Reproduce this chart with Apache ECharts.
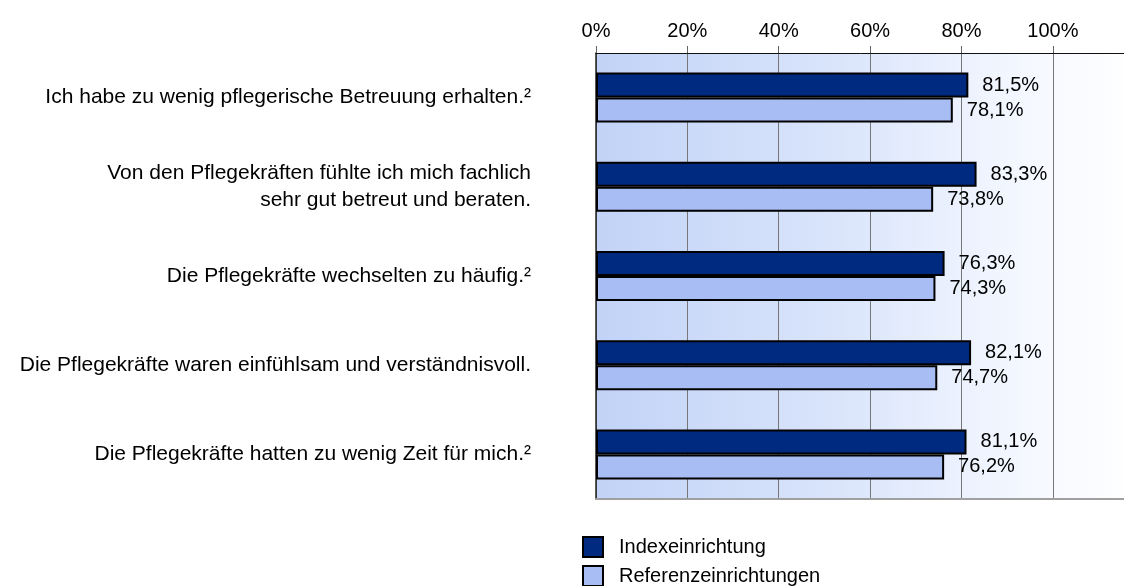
<!DOCTYPE html>
<html lang="de">
<head>
    <meta charset="UTF-8">
    <title>Pflegerische Betreuung</title>
    <script type="text/javascript" src="https://cdn.jsdelivr.net/npm/echarts@6/dist/echarts.min.js"></script>
    <style>
        body { margin: 0; background: #fff; overflow: hidden; }
    </style>
</head>
<body>
<div id="chart" style="width: 1124px;height: 586px"></div>
<script type="text/javascript">
    var categories = [
        'Ich habe zu wenig pflegerische Betreuung erhalten.²',
        'Von den Pflegekräften fühlte ich mich fachlich\nsehr gut betreut und beraten.',
        'Die Pflegekräfte wechselten zu häufig.²',
        'Die Pflegekräfte waren einfühlsam und verständnisvoll.',
        'Die Pflegekräfte hatten zu wenig Zeit für mich.²'
    ];
    var indexValues = [81.5, 83.3, 76.3, 82.1, 81.1];
    var refValues = [78.1, 73.8, 74.3, 74.7, 76.2];
    var seriesNames = ['Indexeinrichtung', 'Referenzeinrichtungen'];

    var font = 'Liberation Sans, Arial, sans-serif';
    var axisMax = 118.2; // plot runs past the right edge of the picture

    function pct(v) {
        return v.toFixed(1).replace('.', ',') + '%';
    }

    var myChart = echarts.init(document.getElementById('chart'));

    var barLabel = {
        show: true,
        position: 'right',
        distance: 14,
        color: '#000',
        fontFamily: font,
        fontSize: 20,
        formatter: function (p) { return pct(p.value); }
    };

    // one legend per row, stacked like the original
    var legendText = {
        fontFamily: font,
        fontSize: 20,
        color: '#000',
        padding: [0, 0, 0, 11]
    };

    var option = {
        animation: false,
        grid: {
            left: 596,
            top: 53,
            width: 540,
            bottom: 87,
            outerBoundsMode: 'none',
            show: true,
            borderWidth: 0,
            backgroundColor: {
                type: 'linear', x: 0, y: 0, x2: 1, y2: 0,
                colorStops: [
                    {offset: 0, color: '#c2d3f7'},
                    {offset: 0.45, color: '#dae5fb'},
                    {offset: 0.8, color: '#f5f8ff'},
                    {offset: 1, color: '#ffffff'}
                ]
            }
        },
        legend: [
            {
                left: 582,
                top: 536,
                padding: 0,
                itemWidth: 20,
                itemHeight: 20,
                icon: 'rect',
                textStyle: legendText,
                data: [seriesNames[0]]
            },
            {
                left: 582,
                top: 565,
                padding: 0,
                itemWidth: 20,
                itemHeight: 20,
                icon: 'rect',
                textStyle: legendText,
                data: [seriesNames[1]]
            }
        ],
        xAxis: [
            {
                type: 'value',
                position: 'top',
                min: 0,
                max: axisMax,
                interval: 20,
                axisLine: {show: true, lineStyle: {color: '#111', width: 1}},
                axisTick: {show: true, length: 7, lineStyle: {color: '#666'}},
                splitLine: {show: true, lineStyle: {color: '#777', width: 1}},
                axisLabel: {
                    margin: 12,
                    color: '#000',
                    fontFamily: font,
                    fontSize: 20,
                    formatter: function (v) { return v > 100 ? '' : v + '%'; }
                }
            },
            {
                type: 'value',
                position: 'bottom',
                min: 0,
                max: axisMax,
                axisLine: {show: true, lineStyle: {color: '#a0a0a0', width: 2}},
                axisTick: {show: false},
                axisLabel: {show: false},
                splitLine: {show: false}
            }
        ],
        yAxis: {
            type: 'category',
            inverse: true,
            data: categories,
            axisLine: {show: true, lineStyle: {color: '#222', width: 1.5}},
            axisTick: {show: false},
            axisLabel: {
                margin: 65,
                color: '#000',
                fontFamily: font,
                fontSize: 21,
                lineHeight: 27,
                align: 'right'
            }
        },
        series: [
            {
                name: seriesNames[0],
                type: 'bar',
                xAxisIndex: 0,
                barWidth: 25,
                barGap: '0%',
                data: indexValues,
                itemStyle: {color: '#002a7f', borderColor: '#000', borderWidth: 2},
                label: barLabel
            },
            {
                name: seriesNames[1],
                type: 'bar',
                xAxisIndex: 0,
                barWidth: 25,
                barGap: '0%',
                data: refValues,
                itemStyle: {color: '#a8bdf3', borderColor: '#000', borderWidth: 2},
                label: barLabel
            }
        ]
    };

    option && myChart.setOption(option);
</script>
</body>
</html>
